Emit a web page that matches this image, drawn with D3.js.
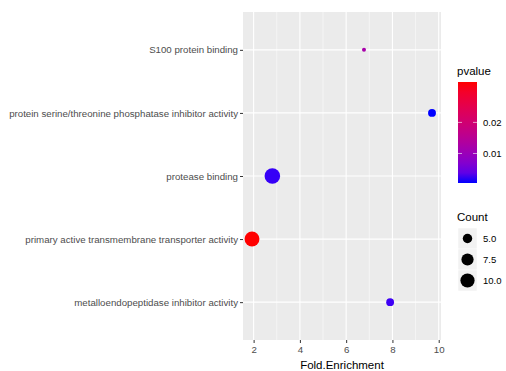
<!DOCTYPE html>
<html>
<head>
<meta charset="utf-8">
<script src="https://cdn.jsdelivr.net/npm/d3@7"></script>
<style>
  body { margin: 0; background: #fff; }
  text { font-family: "Liberation Sans", Arial, sans-serif; }
</style>
</head>
<body>
<div id="chart"></div>
<script>
// Data (top to bottom)
const terms = [
  'S100 protein binding',
  'protein serine/threonine phosphatase inhibitor activity',
  'protease binding',
  'primary active transmembrane transporter activity',
  'metalloendopeptidase inhibitor activity'
];
const foldEnrichment = [6.77, 9.71, 2.81, 1.93, 7.9];
const counts = [3, 4, 12, 11, 4];
const pvalues = [0.012, 0.0005, 0.0015, 0.033, 0.0018];

const xTicks = [2, 4, 6, 8, 10];
const pTicks = [0.01, 0.02];
const countTicks = [5, 7.5, 10];

const data = terms.map((t, i) => ({
  term: t, fe: foldEnrichment[i], count: counts[i], p: pvalues[i]
}));

const W = 506, H = 371;
const panel = { left: 243, right: 441, top: 12, bottom: 340 };

const svg = d3.select('#chart').append('svg')
  .attr('width', W).attr('height', H);

// x scale with ggplot style 5% expansion
const feExt = d3.extent(foldEnrichment);
const pad = (feExt[1] - feExt[0]) * 0.05;
const x = d3.scaleLinear()
  .domain([feExt[0] - pad, feExt[1] + pad])
  .range([panel.left, panel.right]);

const y = d3.scalePoint()
  .domain(terms)
  .range([panel.top, panel.bottom])
  .padding(0.6);

const color = d3.scaleLinear()
  .domain(d3.extent(pvalues))
  .range(['blue', 'red'])
  .interpolate(d3.interpolateLab);

const cExt = d3.extent(counts);
const r = d3.scaleSqrt()
  .domain([0, cExt[1] - cExt[0]])
  .range([2, 7.8]);
const radius = c => r(Math.max(0, c - cExt[0]));

// panel background
svg.append('rect')
  .attr('x', panel.left).attr('y', panel.top)
  .attr('width', panel.right - panel.left)
  .attr('height', panel.bottom - panel.top)
  .attr('fill', '#EBEBEB');

// minor grid
const minor = d3.range(1, 11, 2).filter(v => x(v) > panel.left && x(v) < panel.right);
svg.append('g').selectAll('line').data(minor).enter().append('line')
  .attr('x1', d => x(d)).attr('x2', d => x(d))
  .attr('y1', panel.top).attr('y2', panel.bottom)
  .attr('stroke', '#fff').attr('stroke-width', 0.5);

// major grid
svg.append('g').selectAll('line').data(xTicks).enter().append('line')
  .attr('x1', d => x(d)).attr('x2', d => x(d))
  .attr('y1', panel.top).attr('y2', panel.bottom)
  .attr('stroke', '#fff').attr('stroke-width', 1.1);
svg.append('g').selectAll('line').data(terms).enter().append('line')
  .attr('x1', panel.left).attr('x2', panel.right)
  .attr('y1', d => y(d)).attr('y2', d => y(d))
  .attr('stroke', '#fff').attr('stroke-width', 1.1);

// points
svg.append('g').selectAll('circle').data(data).enter().append('circle')
  .attr('cx', d => x(d.fe))
  .attr('cy', d => y(d.term))
  .attr('r', d => radius(d.count))
  .attr('fill', d => color(d.p));

// axes
const xAxis = svg.append('g')
  .attr('transform', `translate(0,${panel.bottom})`)
  .call(d3.axisBottom(x).tickValues(xTicks).tickSize(3).tickPadding(3));
xAxis.select('.domain').remove();
xAxis.selectAll('line').attr('stroke', '#333');
xAxis.selectAll('text').attr('fill', '#4D4D4D').style('font-size', '9.7px');

const yAxis = svg.append('g')
  .attr('transform', `translate(${panel.left},0)`)
  .call(d3.axisLeft(y).tickSize(3).tickPadding(2));
yAxis.select('.domain').remove();
yAxis.selectAll('line').attr('stroke', '#333');
yAxis.selectAll('text').attr('fill', '#4D4D4D').style('font-size', '9.7px');

svg.append('text')
  .attr('x', (panel.left + panel.right) / 2).attr('y', 369)
  .attr('text-anchor', 'middle')
  .style('font-size', '11.5px')
  .text('Fold.Enrichment');

// colour legend
const lg = { x: 458, top: 82, bottom: 183, w: 19 };
svg.append('text').attr('x', lg.x - 1).attr('y', 75)
  .style('font-size', '11.5px').text('pvalue');

const defs = svg.append('defs');
const grad = defs.append('linearGradient').attr('id', 'pgrad')
  .attr('x1', 0).attr('y1', 1).attr('x2', 0).attr('y2', 0);
d3.range(0, 1.0001, 0.1).forEach(t => {
  const pd = color.domain();
  grad.append('stop').attr('offset', t)
    .attr('stop-color', color(pd[0] + t * (pd[1] - pd[0])));
});
svg.append('rect')
  .attr('x', lg.x).attr('y', lg.top)
  .attr('width', lg.w).attr('height', lg.bottom - lg.top)
  .attr('fill', 'url(#pgrad)');

const py = d3.scaleLinear().domain(color.domain()).range([lg.bottom, lg.top]);
pTicks.forEach(v => {
  svg.append('line').attr('x1', lg.x).attr('x2', lg.x + 4)
    .attr('y1', py(v)).attr('y2', py(v)).attr('stroke', '#fff').attr('stroke-opacity', 0.6);
  svg.append('line').attr('x1', lg.x + lg.w - 4).attr('x2', lg.x + lg.w)
    .attr('y1', py(v)).attr('y2', py(v)).attr('stroke', '#fff').attr('stroke-opacity', 0.6);
  svg.append('text').attr('x', lg.x + lg.w + 6).attr('y', py(v))
    .attr('dy', '0.35em').style('font-size', '9.5px').text(v.toFixed(2));
});

// size legend
svg.append('text').attr('x', lg.x - 1).attr('y', 221)
  .style('font-size', '11.5px').text('Count');
let ky = 228;
countTicks.forEach(v => {
  const kh = 21;
  svg.append('rect').attr('x', lg.x).attr('y', ky)
    .attr('width', lg.w).attr('height', kh)
    .attr('fill', '#F2F2F2').attr('stroke', '#fff').attr('stroke-width', 0.5);
  svg.append('circle').attr('cx', lg.x + lg.w / 2).attr('cy', ky + kh / 2)
    .attr('r', radius(v)).attr('fill', '#000');
  svg.append('text').attr('x', lg.x + lg.w + 6).attr('y', ky + kh / 2)
    .attr('dy', '0.35em').style('font-size', '9.5px').text(v.toFixed(1));
  ky += kh;
});
</script>
</body>
</html>
